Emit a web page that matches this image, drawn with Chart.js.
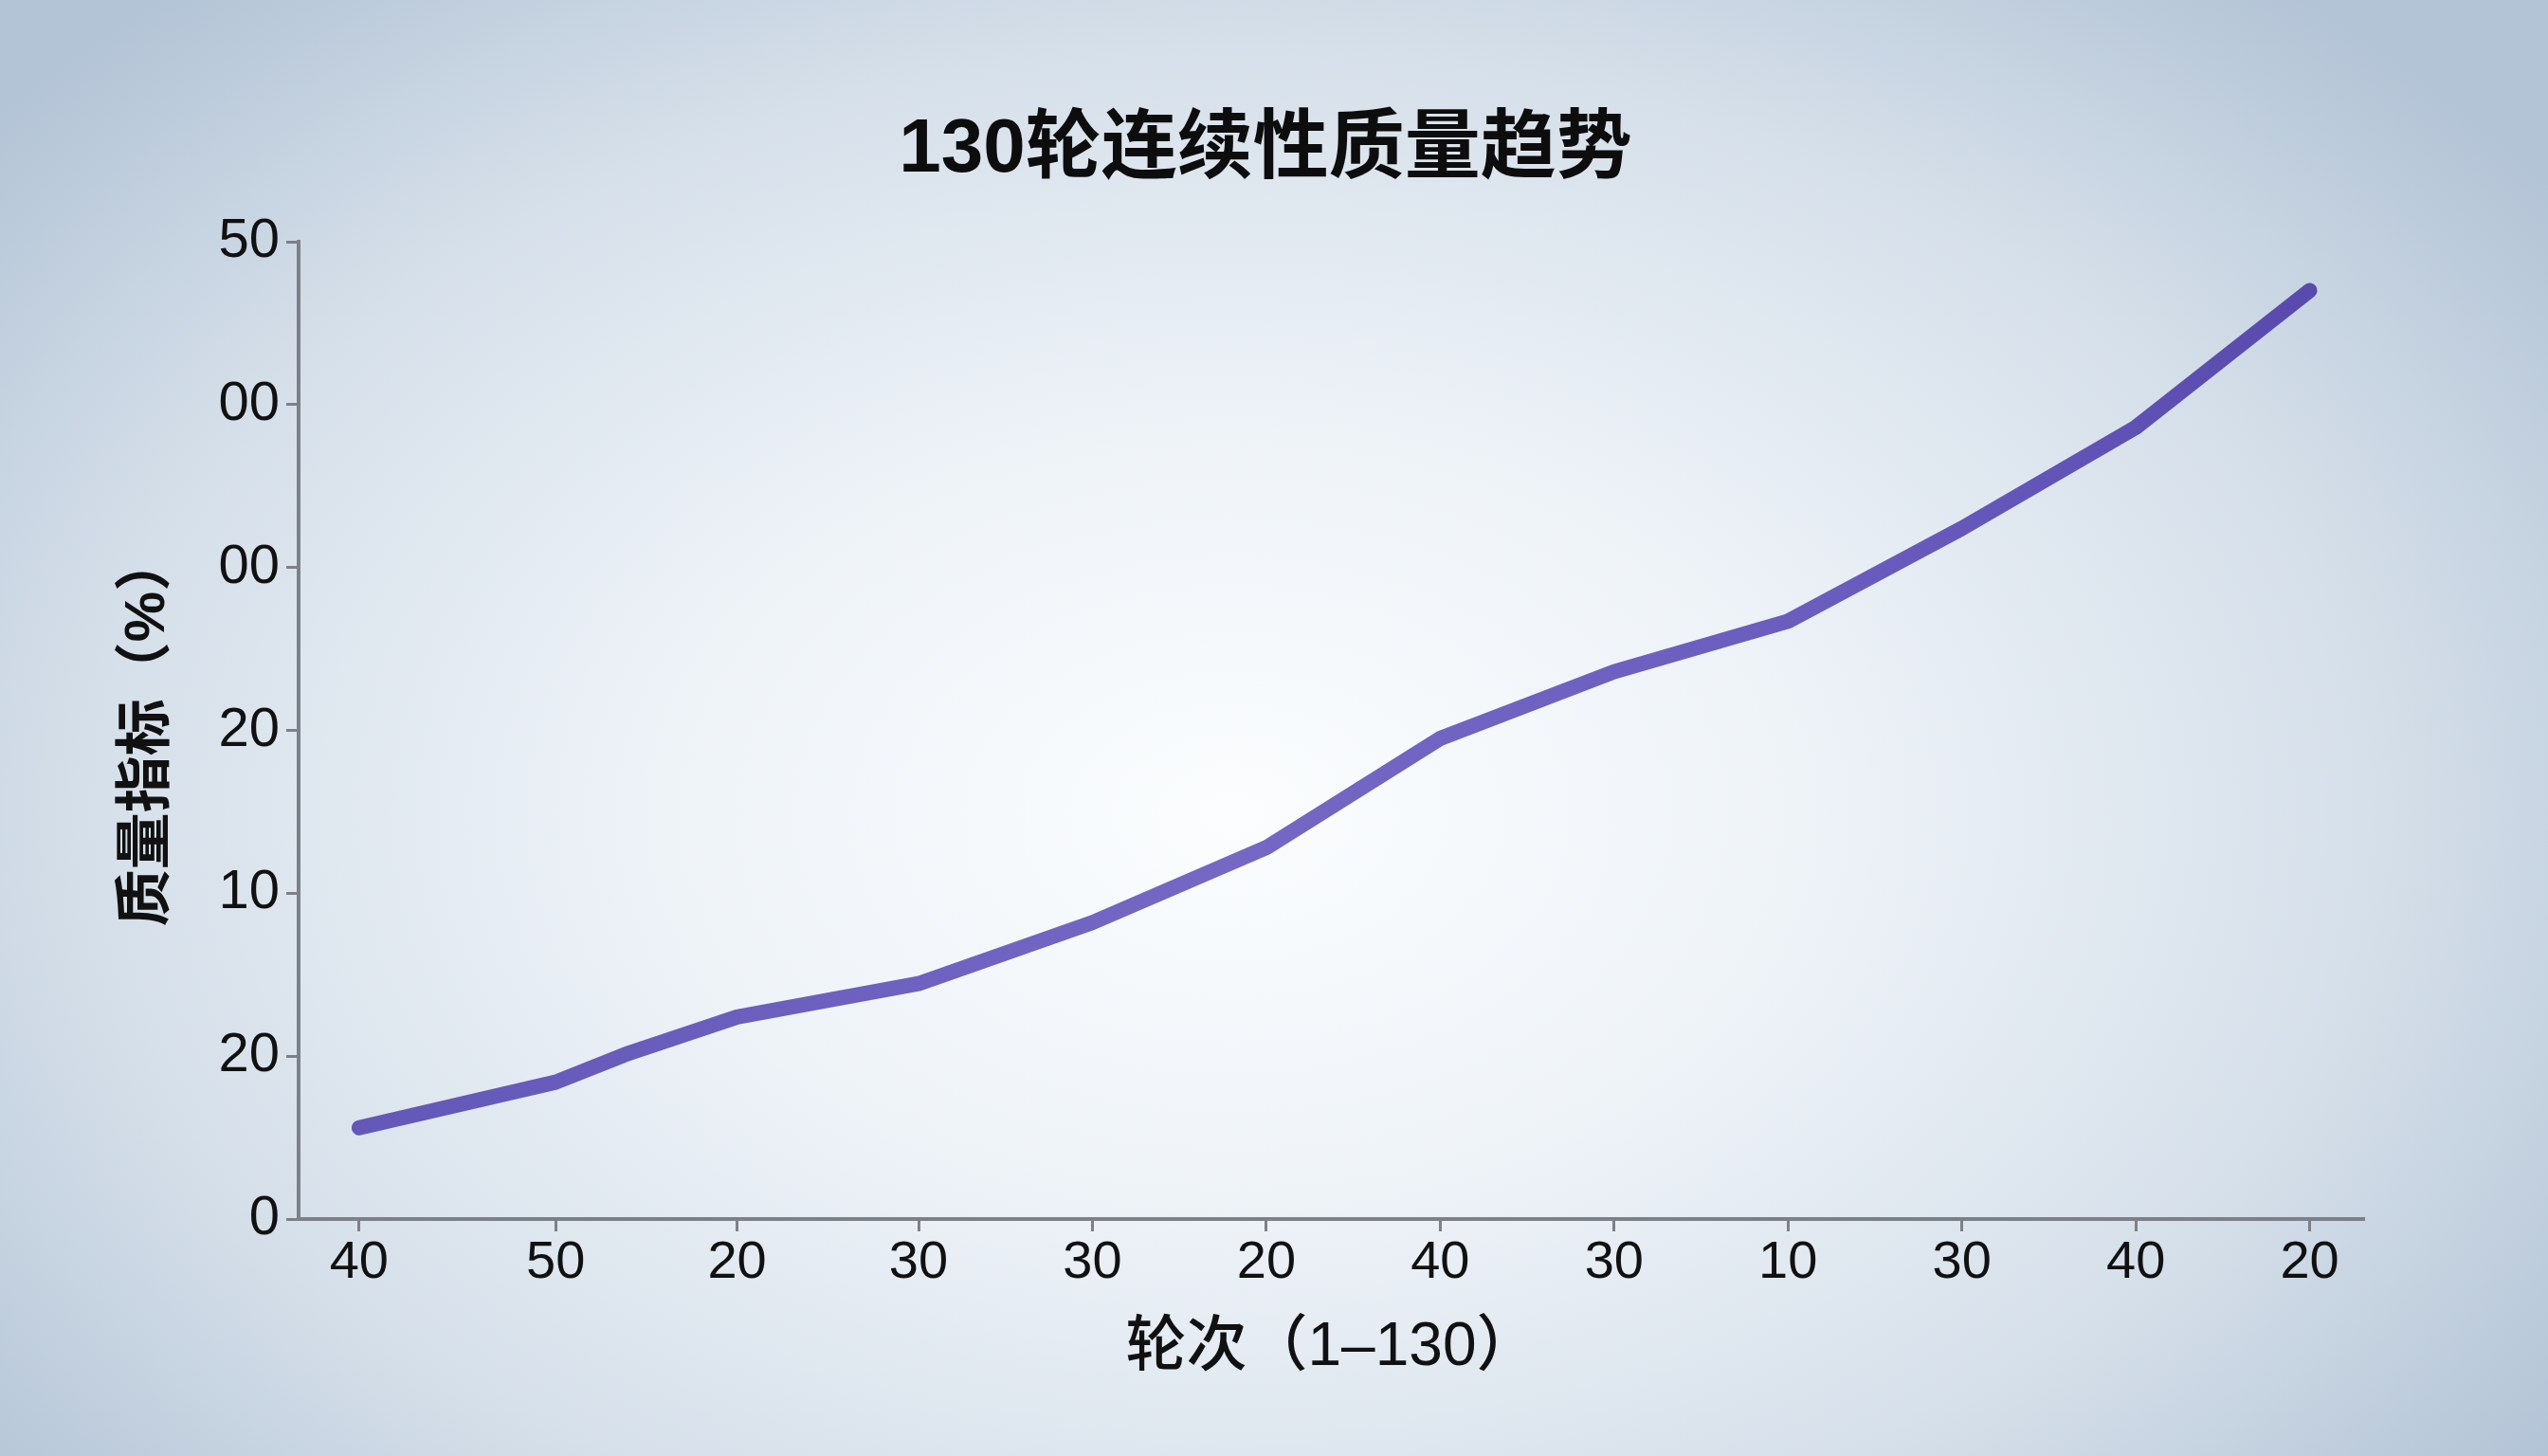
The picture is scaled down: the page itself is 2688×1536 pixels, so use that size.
<!DOCTYPE html>
<html>
<head>
<meta charset="utf-8">
<script src="https://cdn.jsdelivr.net/npm/chart.js@4/dist/chart.umd.min.js"></script>
<style>
  html, body { margin: 0; padding: 0; width: 2688px; height: 1536px; overflow: hidden; }
  body {
    background: radial-gradient(ellipse 1700px 1150px at 1300px 860px, #fbfdfe 0%, #eef3f8 35%, #d6e0ea 70%, #b3c4d6 100%);
  }
  #wrap { position: absolute; left: 0; top: 0; width: 2688px; height: 1536px; }
</style>
</head>
<body>
<div id="wrap"><canvas id="c" width="2688" height="1536"></canvas></div>
<script>
// ---- data ----
const chartTitle = '130轮连续性质量趋势';
const xTitle = '轮次（1–130）';
const yTitle = '质量指标（%）';
// x tick positions (round number) and their printed labels
const xTickValues = [1, 14, 26, 38, 49.5, 61, 72.5, 84, 95.5, 107, 118.5, 130];
const xTickLabels = ['40', '50', '20', '30', '30', '20', '40', '30', '10', '30', '40', '20'];
// y tick labels as printed (for 0,10,...,60)
const yTickLabels = ['0', '20', '10', '20', '00', '00', '50'];
// line vertices: round number and quality value
const rounds = [1, 14, 18.6, 26, 38, 49.5, 61, 72.5, 84, 95.5, 107, 118.5, 130];
const qualityValues = [5.6, 8.4, 10.1, 12.4, 14.45, 18.2, 22.8, 29.5, 33.6, 36.7, 42.4, 48.6, 57.0];

const FONT = "'Liberation Sans', 'Noto Sans CJK SC', sans-serif";
const AXIS = '#7d8187';

const points = rounds.map((r, i) => ({ x: r, y: qualityValues[i] }));

function lineGradient(context) {
  const chart = context.chart;
  const area = chart.chartArea;
  if (!area) return '#6d5fc0';
  const g = chart.ctx.createLinearGradient(area.left, 0, area.right, 0);
  g.addColorStop(0, '#6256b7');
  g.addColorStop(0.45, '#7567c4');
  g.addColorStop(0.75, '#6a5cbe');
  g.addColorStop(1, '#5747ab');
  return g;
}

new Chart(document.getElementById('c'), {
  type: 'line',
  data: {
    datasets: [{
      data: points,
      borderColor: lineGradient,
      borderWidth: 16,
      borderCapStyle: 'round',
      borderJoinStyle: 'round',
      pointRadius: 0,
      tension: 0,
      fill: false
    }]
  },
  options: {
    responsive: false,
    animation: false,
    devicePixelRatio: 1,
    layout: { padding: { top: 111, right: 194, bottom: 75, left: 176 } },
    plugins: {
      legend: { display: false },
      tooltip: { enabled: false },
      title: {
        display: true,
        text: chartTitle,
        color: '#0d0d0d',
        font: { family: FONT, size: 80, weight: 'bold', lineHeight: 1.2 },
        padding: { top: 0, bottom: 48 }
      }
    },
    scales: {
      x: {
        type: 'linear',
        min: -3,
        max: 133.6,
        afterBuildTicks: (scale) => { scale.ticks = xTickValues.map(v => ({ value: v })); },
        ticks: {
          color: '#111',
          font: { family: FONT, size: 56 },
          padding: 0,
          maxRotation: 0,
          autoSkip: false,
          callback: (v, i) => xTickLabels[i] !== undefined ? xTickLabels[i] : ''
        },
        grid: { drawOnChartArea: false, drawTicks: true, tickLength: 13, tickColor: AXIS, tickWidth: 3 },
        border: { display: true, color: AXIS, width: 4 },
        title: {
          display: true,
          text: xTitle,
          color: '#111',
          font: { family: FONT, size: 64, weight: '500' },
          padding: { top: 18, bottom: 0 }
        }
      },
      y: {
        type: 'linear',
        min: 0,
        max: 60,
        afterFit: (scale) => { scale.width = 139; },
        ticks: {
          stepSize: 10,
          color: '#111',
          font: { family: FONT, size: 58 },
          padding: 7,
          callback: (v) => yTickLabels[v / 10] !== undefined ? yTickLabels[v / 10] : ''
        },
        grid: { drawOnChartArea: false, drawTicks: true, tickLength: 13, tickColor: AXIS, tickWidth: 3 },
        border: { display: true, color: AXIS, width: 4 },
        title: {
          display: true,
          text: yTitle,
          color: '#111',
          font: { family: FONT, size: 60, weight: 'bold' },
          padding: { top: -56, bottom: 0 }
        }
      }
    }
  }
});
</script>
</body>
</html>
